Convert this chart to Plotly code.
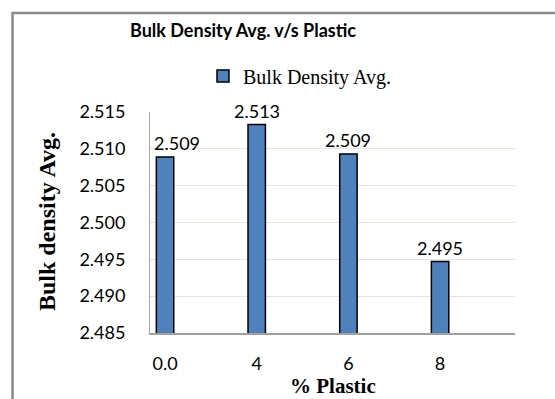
import plotly.graph_objects as go

# Bulk density averages by plastic content
categories = ["0.0", "4", "6", "8"]
bulk_density = [2.5089, 2.5133, 2.5093, 2.4947]
series_name = "Bulk Density Avg."
y_ticks = [2.485, 2.490, 2.495, 2.500, 2.505, 2.510, 2.515]

W, H = 555, 399
L, R, T, B = 150, 40, 112, 66  # plot area: x 150..515, y 112..333
pw, ph = W - L - R, H - T - B


def px_x(x):
    return (x - L) / pw


def px_y(y):
    return (H - B - y) / ph


num_font = "Lato, 'Open Sans', sans-serif"
serif = "'Liberation Serif', 'Times New Roman', serif"

fig = go.Figure()
fig.add_trace(go.Bar(
    x=categories,
    y=bulk_density,
    name=series_name,
    width=0.19,
    marker=dict(color="#4F81BD", line=dict(color="#000000", width=1.5)),
    showlegend=True,
))

# value labels above each bar (category axis: position by category index)
annotations = []
for i, v in enumerate(bulk_density):
    annotations.append(dict(
        x=i, y=v, xref="x", yref="y",
        text=f"{v:.3f}", showarrow=False,
        yanchor="bottom", yshift=1, xshift=12 if i == 0 else 0,
        font=dict(family=num_font, size=18, color="#000000"),
    ))

# axis titles
annotations.append(dict(
    x=px_x(47), y=px_y(222), xref="paper", yref="paper",
    text="<b>Bulk density Avg.</b>", showarrow=False, textangle=-90,
    xanchor="center", yanchor="middle",
    font=dict(family=serif, size=24, color="#000000"),
))
annotations.append(dict(
    x=px_x(333), y=px_y(386), xref="paper", yref="paper",
    text="<b>% Plastic</b>", showarrow=False,
    xanchor="center", yanchor="middle",
    font=dict(family=serif, size=21, color="#000000"),
))

fig.update_layout(
    width=W, height=H,
    margin=dict(l=L, r=R, t=T, b=B),
    paper_bgcolor="#FFFFFF",
    plot_bgcolor="#FFFFFF",
    title=dict(
        text="<b>Bulk Density Avg. v/s Plastic</b>",
        x=px_x(243), xref="paper", xanchor="center",
        y=1 - 31 / H, yref="container", yanchor="middle",
        font=dict(family=num_font, size=18, color="#000000"),
    ),
    legend=dict(
        x=px_x(203), y=px_y(76), xanchor="left", yanchor="middle",
        xref="paper", yref="paper",
        font=dict(family=serif, size=20, color="#000000"),
        bgcolor="rgba(0,0,0,0)", itemwidth=30,
    ),
    xaxis=dict(
        type="category",
        range=[-0.164, 3.817],
        showgrid=False,
        showline=True, linecolor="#A0A0A0", linewidth=2,
        ticks="", ticklabelstandoff=13,
        tickfont=dict(family=num_font, size=18, color="#000000"),
        zeroline=False, fixedrange=True,
    ),
    yaxis=dict(
        range=[2.485, 2.515],
        tickvals=y_ticks,
        tickformat=".3f",
        showgrid=True, gridcolor="#E8E6D8", gridwidth=1,
        showline=True, linecolor="#A6A6A6", linewidth=1,
        ticks="", ticklabelstandoff=20,
        tickfont=dict(family=num_font, size=18, color="#000000"),
        zeroline=False, fixedrange=True,
    ),
    annotations=annotations,
    shapes=[dict(
        type="rect", xref="paper", yref="paper",
        x0=px_x(12.5), x1=1.3, y0=-0.6, y1=px_y(13),
        line=dict(color="#8A8A8A", width=2.5),
        fillcolor="rgba(0,0,0,0)", layer="above",
    )],
)

fig.write_html("out.html")
